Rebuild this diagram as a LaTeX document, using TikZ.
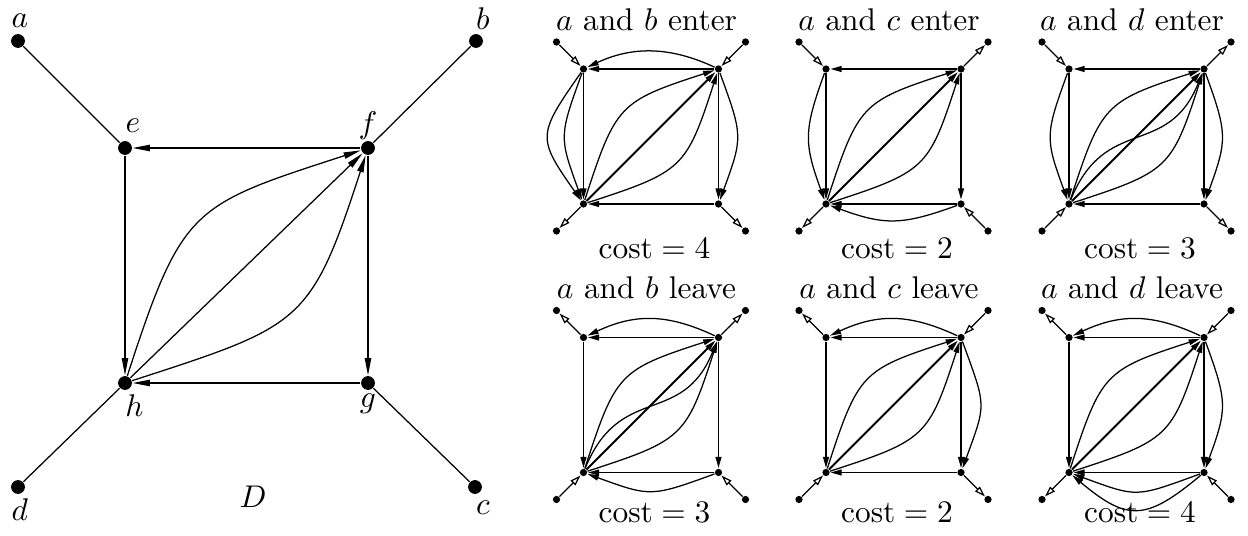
\documentclass[tikz,border=0pt]{standalone}
\usetikzlibrary{arrows.meta}

\begin{document}
\begin{tikzpicture}[
  x=0.0112cm, y=0.0112cm,
  bigdot/.style={circle, fill, inner sep=0pt, minimum size=4.4pt},
  dot/.style={circle, fill, inner sep=0pt, minimum size=2.3pt},
  lbl/.style={inner sep=1pt},
  arc/.style={-{Triangle[length=5.5pt, width=2pt]}},
  sarc/.style={-{Triangle[length=3.6pt, width=1.8pt]}},
  side/.style={sarc, line width=0.6pt},
  term/.style={-{Triangle[open, length=3.4pt, width=2.1pt]}},
  every label/.style={lbl}
]
\useasboundingbox (0,0) rectangle (1248,535);

% the graph D
\node[bigdot, label={[xshift=0.6pt, label distance=0.7pt]above:$a$}] (a) at (18,494) {};
\node[bigdot, label={[xshift=2.2pt]above:$b$}] (b) at (476,494) {};
\node[bigdot, label={[xshift=0.6pt]below:$d$}] (d) at (18,48) {};
\node[bigdot, label={[xshift=2.5pt, label distance=1pt]below:$c$}] (c) at (475,48) {};
\node[bigdot, label={[xshift=2.5pt, label distance=1.3pt]above:$e$}] (e) at (125,387) {};
\node[bigdot, label={[label distance=-1pt]above:$f$}] (f) at (368,387) {};
\node[bigdot, label={[xshift=3pt]below:$h$}] (h) at (125,152) {};
\node[bigdot, label=below:$g$] (g) at (368,152) {};
\node (D) at (253,38) {$D$};
\draw (a) -- (e);
\draw (b) -- (f);
\draw (d) -- (h);
\draw (c) -- (g);
\draw[arc] (f) -- (e);
\draw[arc] (e) -- (h);
\draw[arc] (f) -- (g);
\draw[arc] (g) -- (h);
\draw[arc] (h) -- (f);
\draw[arc] (h) to[out=72, in=198, looseness=1.4] (f);
\draw[arc] (h) to[out=18, in=252, looseness=1.4] (f);

% a and b enter
\begin{scope}[shift={(583.5,331)}]
\node[dot] (e1) at (0,135) {};
\node[dot] (f1) at (135,135) {};
\node[dot] (g1) at (135,0) {};
\node[dot] (h1) at (0,0) {};
\node[dot] (a1) at (-27,162) {};
\node[dot] (b1) at (162,162) {};
\node[dot] (c1) at (162,-27) {};
\node[dot] (d1) at (-27,-27) {};
\node (t1) at (63,184) {$a$ and $b$ enter};
\node (k1) at (71,-44) {$\mathrm{cost}=4$};
\draw[term] (a1) -- (e1);
\draw[term] (b1) -- (f1);
\draw[term] (h1) -- (d1);
\draw[term] (g1) -- (c1);
\draw[side] (f1) -- (e1);
\draw[side] (e1) -- (h1);
\draw[side] (f1) -- (g1);
\draw[side] (g1) -- (h1);
\draw[side] (h1) -- (f1);
\draw[sarc] (h1) to[out=72, in=198, looseness=1.4] (f1);
\draw[sarc] (h1) to[out=18, in=252, looseness=1.4] (f1);
\draw[sarc] (f1) to[out=155, in=25] (e1);
\draw[sarc] (e1) to[out=235, in=125, looseness=1.54] (h1);
\draw[sarc] (e1) to[out=250, in=110, looseness=1.36] (h1);
\draw[sarc] (f1) to[out=290, in=70, looseness=1.36] (g1);
\end{scope}

% a and c enter
\begin{scope}[shift={(826,331)}]
\node[dot] (e2) at (0,135) {};
\node[dot] (f2) at (135,135) {};
\node[dot] (g2) at (135,0) {};
\node[dot] (h2) at (0,0) {};
\node[dot] (a2) at (-27,162) {};
\node[dot] (b2) at (162,162) {};
\node[dot] (c2) at (162,-27) {};
\node[dot] (d2) at (-27,-27) {};
\node (t2) at (63,184) {$a$ and $c$ enter};
\node (k2) at (71,-44) {$\mathrm{cost}=2$};
\draw[term] (a2) -- (e2);
\draw[term] (f2) -- (b2);
\draw[term] (h2) -- (d2);
\draw[term] (c2) -- (g2);
\draw[side] (f2) -- (e2);
\draw[side] (e2) -- (h2);
\draw[side] (f2) -- (g2);
\draw[side] (g2) -- (h2);
\draw[side] (h2) -- (f2);
\draw[sarc] (h2) to[out=72, in=198, looseness=1.4] (f2);
\draw[sarc] (h2) to[out=18, in=252, looseness=1.4] (f2);
\draw[sarc] (e2) to[out=250, in=110, looseness=1.23] (h2);
\draw[sarc] (g2) to[out=200, in=340, looseness=1.18] (h2);
\end{scope}

% a and d enter
\begin{scope}[shift={(1069,331)}]
\node[dot] (e3) at (0,135) {};
\node[dot] (f3) at (135,135) {};
\node[dot] (g3) at (135,0) {};
\node[dot] (h3) at (0,0) {};
\node[dot] (a3) at (-27,162) {};
\node[dot] (b3) at (162,162) {};
\node[dot] (c3) at (162,-27) {};
\node[dot] (d3) at (-27,-27) {};
\node (t3) at (63,184) {$a$ and $d$ enter};
\node (k3) at (71,-44) {$\mathrm{cost}=3$};
\draw[term] (a3) -- (e3);
\draw[term] (f3) -- (b3);
\draw[term] (d3) -- (h3);
\draw[term] (g3) -- (c3);
\draw[side] (f3) -- (e3);
\draw[side] (e3) -- (h3);
\draw[side] (f3) -- (g3);
\draw[side] (g3) -- (h3);
\draw[side] (h3) -- (f3);
\draw[sarc] (h3) to[out=72, in=198, looseness=1.4] (f3);
\draw[sarc] (h3) to[out=18, in=252, looseness=1.4] (f3);
\draw[sarc] (h3) to[out=68, in=248, looseness=1.3] (f3);
\draw[sarc] (e3) to[out=250, in=110, looseness=1.33] (h3);
\draw[sarc] (f3) to[out=290, in=70, looseness=1.3] (g3);
\end{scope}

% a and b leave
\begin{scope}[shift={(583.5,62.5)}]
\node[dot] (e4) at (0,135) {};
\node[dot] (f4) at (135,135) {};
\node[dot] (g4) at (135,0) {};
\node[dot] (h4) at (0,0) {};
\node[dot] (a4) at (-27,162) {};
\node[dot] (b4) at (162,162) {};
\node[dot] (c4) at (162,-27) {};
\node[dot] (d4) at (-27,-27) {};
\node (t4) at (63,184.5) {$a$ and $b$ leave};
\node (k4) at (71,-40) {$\mathrm{cost}=3$};
\draw[term] (e4) -- (a4);
\draw[term] (f4) -- (b4);
\draw[term] (d4) -- (h4);
\draw[term] (c4) -- (g4);
\draw[side] (f4) -- (e4);
\draw[side] (e4) -- (h4);
\draw[side] (f4) -- (g4);
\draw[side] (g4) -- (h4);
\draw[side] (h4) -- (f4);
\draw[sarc] (h4) to[out=72, in=198, looseness=1.4] (f4);
\draw[sarc] (h4) to[out=18, in=252, looseness=1.4] (f4);
\draw[sarc] (h4) to[out=68, in=248, looseness=1.3] (f4);
\draw[sarc] (f4) to[out=155, in=25, looseness=1.06] (e4);
\draw[sarc] (g4) to[out=200, in=340, looseness=1.36] (h4);
\end{scope}

% a and c leave
\begin{scope}[shift={(826,62.5)}]
\node[dot] (e5) at (0,135) {};
\node[dot] (f5) at (135,135) {};
\node[dot] (g5) at (135,0) {};
\node[dot] (h5) at (0,0) {};
\node[dot] (a5) at (-27,162) {};
\node[dot] (b5) at (162,162) {};
\node[dot] (c5) at (162,-27) {};
\node[dot] (d5) at (-27,-27) {};
\node (t5) at (63,184.5) {$a$ and $c$ leave};
\node (k5) at (71,-40) {$\mathrm{cost}=2$};
\draw[term] (e5) -- (a5);
\draw[term] (b5) -- (f5);
\draw[term] (d5) -- (h5);
\draw[term] (g5) -- (c5);
\draw[side] (f5) -- (e5);
\draw[side] (e5) -- (h5);
\draw[side] (f5) -- (g5);
\draw[side] (g5) -- (h5);
\draw[side] (h5) -- (f5);
\draw[sarc] (h5) to[out=72, in=198, looseness=1.4] (f5);
\draw[sarc] (h5) to[out=18, in=252, looseness=1.4] (f5);
\draw[sarc] (f5) to[out=155, in=25, looseness=1.06] (e5);
\draw[sarc] (f5) to[out=290, in=70, looseness=1.42] (g5);
\end{scope}

% a and d leave
\begin{scope}[shift={(1069,62.5)}]
\node[dot] (e6) at (0,135) {};
\node[dot] (f6) at (135,135) {};
\node[dot] (g6) at (135,0) {};
\node[dot] (h6) at (0,0) {};
\node[dot] (a6) at (-27,162) {};
\node[dot] (b6) at (162,162) {};
\node[dot] (c6) at (162,-27) {};
\node[dot] (d6) at (-27,-27) {};
\node (t6) at (63,184.5) {$a$ and $d$ leave};
\node (k6) at (71,-40) {$\mathrm{cost}=4$};
\draw[term] (e6) -- (a6);
\draw[term] (b6) -- (f6);
\draw[term] (h6) -- (d6);
\draw[term] (c6) -- (g6);
\draw[side] (f6) -- (e6);
\draw[side] (e6) -- (h6);
\draw[side] (f6) -- (g6);
\draw[side] (g6) -- (h6);
\draw[side] (h6) -- (f6);
\draw[sarc] (h6) to[out=72, in=198, looseness=1.4] (f6);
\draw[sarc] (h6) to[out=18, in=252, looseness=1.4] (f6);
\draw[sarc] (f6) to[out=155, in=25, looseness=1.06] (e6);
\draw[sarc] (f6) to[out=290, in=70, looseness=1.3] (g6);
\draw[sarc] (g6) to[out=200, in=340, looseness=1.4] (h6);
\draw[sarc] (g6) to[out=220, in=320, looseness=1.43] (h6);
\end{scope}
\end{tikzpicture}
\end{document}
